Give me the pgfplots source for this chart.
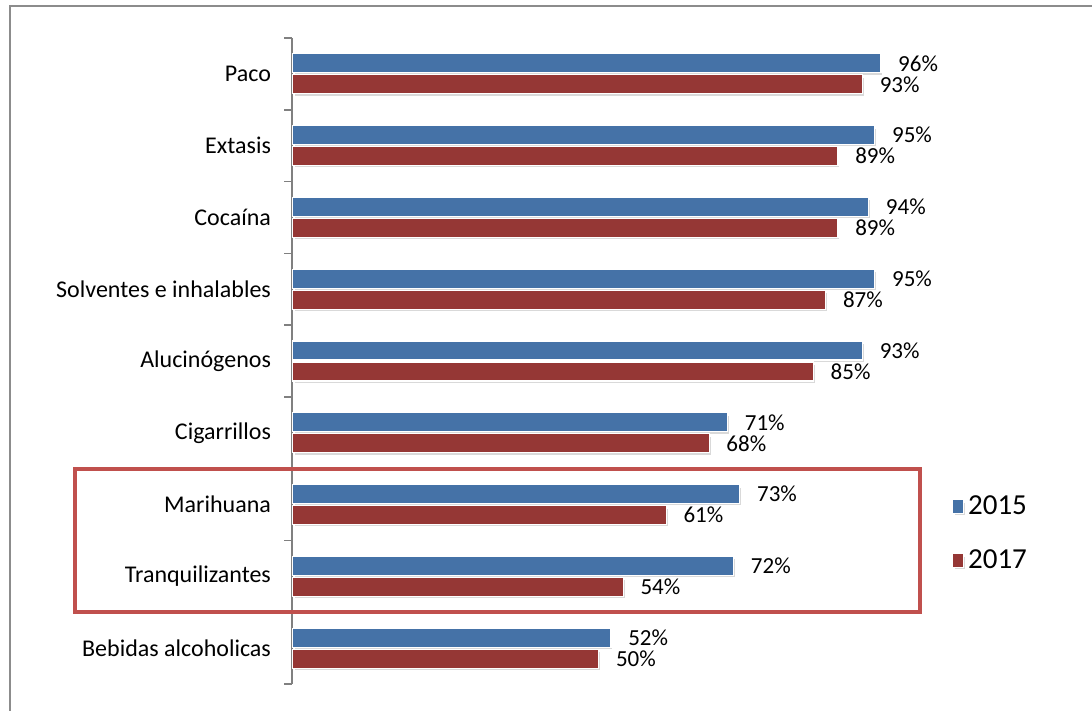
\documentclass[border=0pt]{standalone}
\usepackage{pgfplots}
\pgfplotsset{compat=1.18}
\usepackage{fontspec}
\setmainfont{Carlito}
\definecolor{bar15}{HTML}{4572A7}
\definecolor{bar17}{HTML}{953735}
\definecolor{boxred}{HTML}{C0504D}
\begin{document}
\begin{tikzpicture}
\path[use as bounding box] (0,0) rectangle (546pt,355.5pt);
% outer frame (runs off the right and bottom edge)
\draw[gray!90, line width=1pt] (5pt,-20pt) -- (5pt,352.5pt) -- (580pt,352.5pt);
\begin{axis}[
    at={(146pt,13.5pt)}, anchor=south west,
    scale only axis,
    width=306.75pt, height=323pt,
    xbar, bar width=9.5pt,
    xmin=0, xmax=100,
    ymin=-0.5, ymax=8.5,
    axis x line=none,
    axis y line*=left,
    axis line style={gray, line width=0.75pt},
    ytick={0,...,8},
    yticklabels={Bebidas alcoholicas,Tranquilizantes,Marihuana,Cigarrillos,Alucinógenos,Solventes e inhalables,Cocaína,Extasis,Paco},
    minor ytick={-0.5,0.5,...,8.5},
    major tick length=0pt, minor tick length=4pt,
    tick align=outside,
    minor tick style={gray, line width=0.75pt},
    yticklabel style={font=\fontsize{12}{14}\selectfont, xshift=-7pt},
    /pgf/number format/assume math mode=true,
    point meta=x,
    nodes near coords={\pgfmathprintnumber{\pgfplotspointmeta}\%},
    nodes near coords style={font=\fontsize{11.5}{13}\selectfont, anchor=west, xshift=5pt, black},
    every axis plot/.append style={draw=white, line width=0.6pt,
        preaction={fill=black!15, transform canvas={xshift=1pt, yshift=-1.2pt}}},
    legend style={draw=none, fill=none, at={(1.075,0.233)}, anchor=west,
        font=\fontsize{14.5}{16}\selectfont, row sep=12pt, inner sep=0pt},
    legend cell align=left,
    legend image code/.code={\fill[#1] (0pt,-3.4pt) rectangle (5.5pt,3.4pt);},
]
\addplot[fill=bar15, bar shift=5.25pt] coordinates {
    (52,0) (72,1) (73,2) (71,3) (93,4) (95,5) (94,6) (95,7) (96,8)};
\addplot[fill=bar17, bar shift=-5.25pt] coordinates {
    (50,0) (54,1) (61,2) (68,3) (85,4) (87,5) (89,6) (89,7) (93,8)};
\legend{2015,2017}
\end{axis}
% highlight box round Marihuana and Tranquilizantes
\draw[boxred, line width=2pt] (37.5pt,49.5pt) rectangle (460pt,121pt);
\end{tikzpicture}
\end{document}
